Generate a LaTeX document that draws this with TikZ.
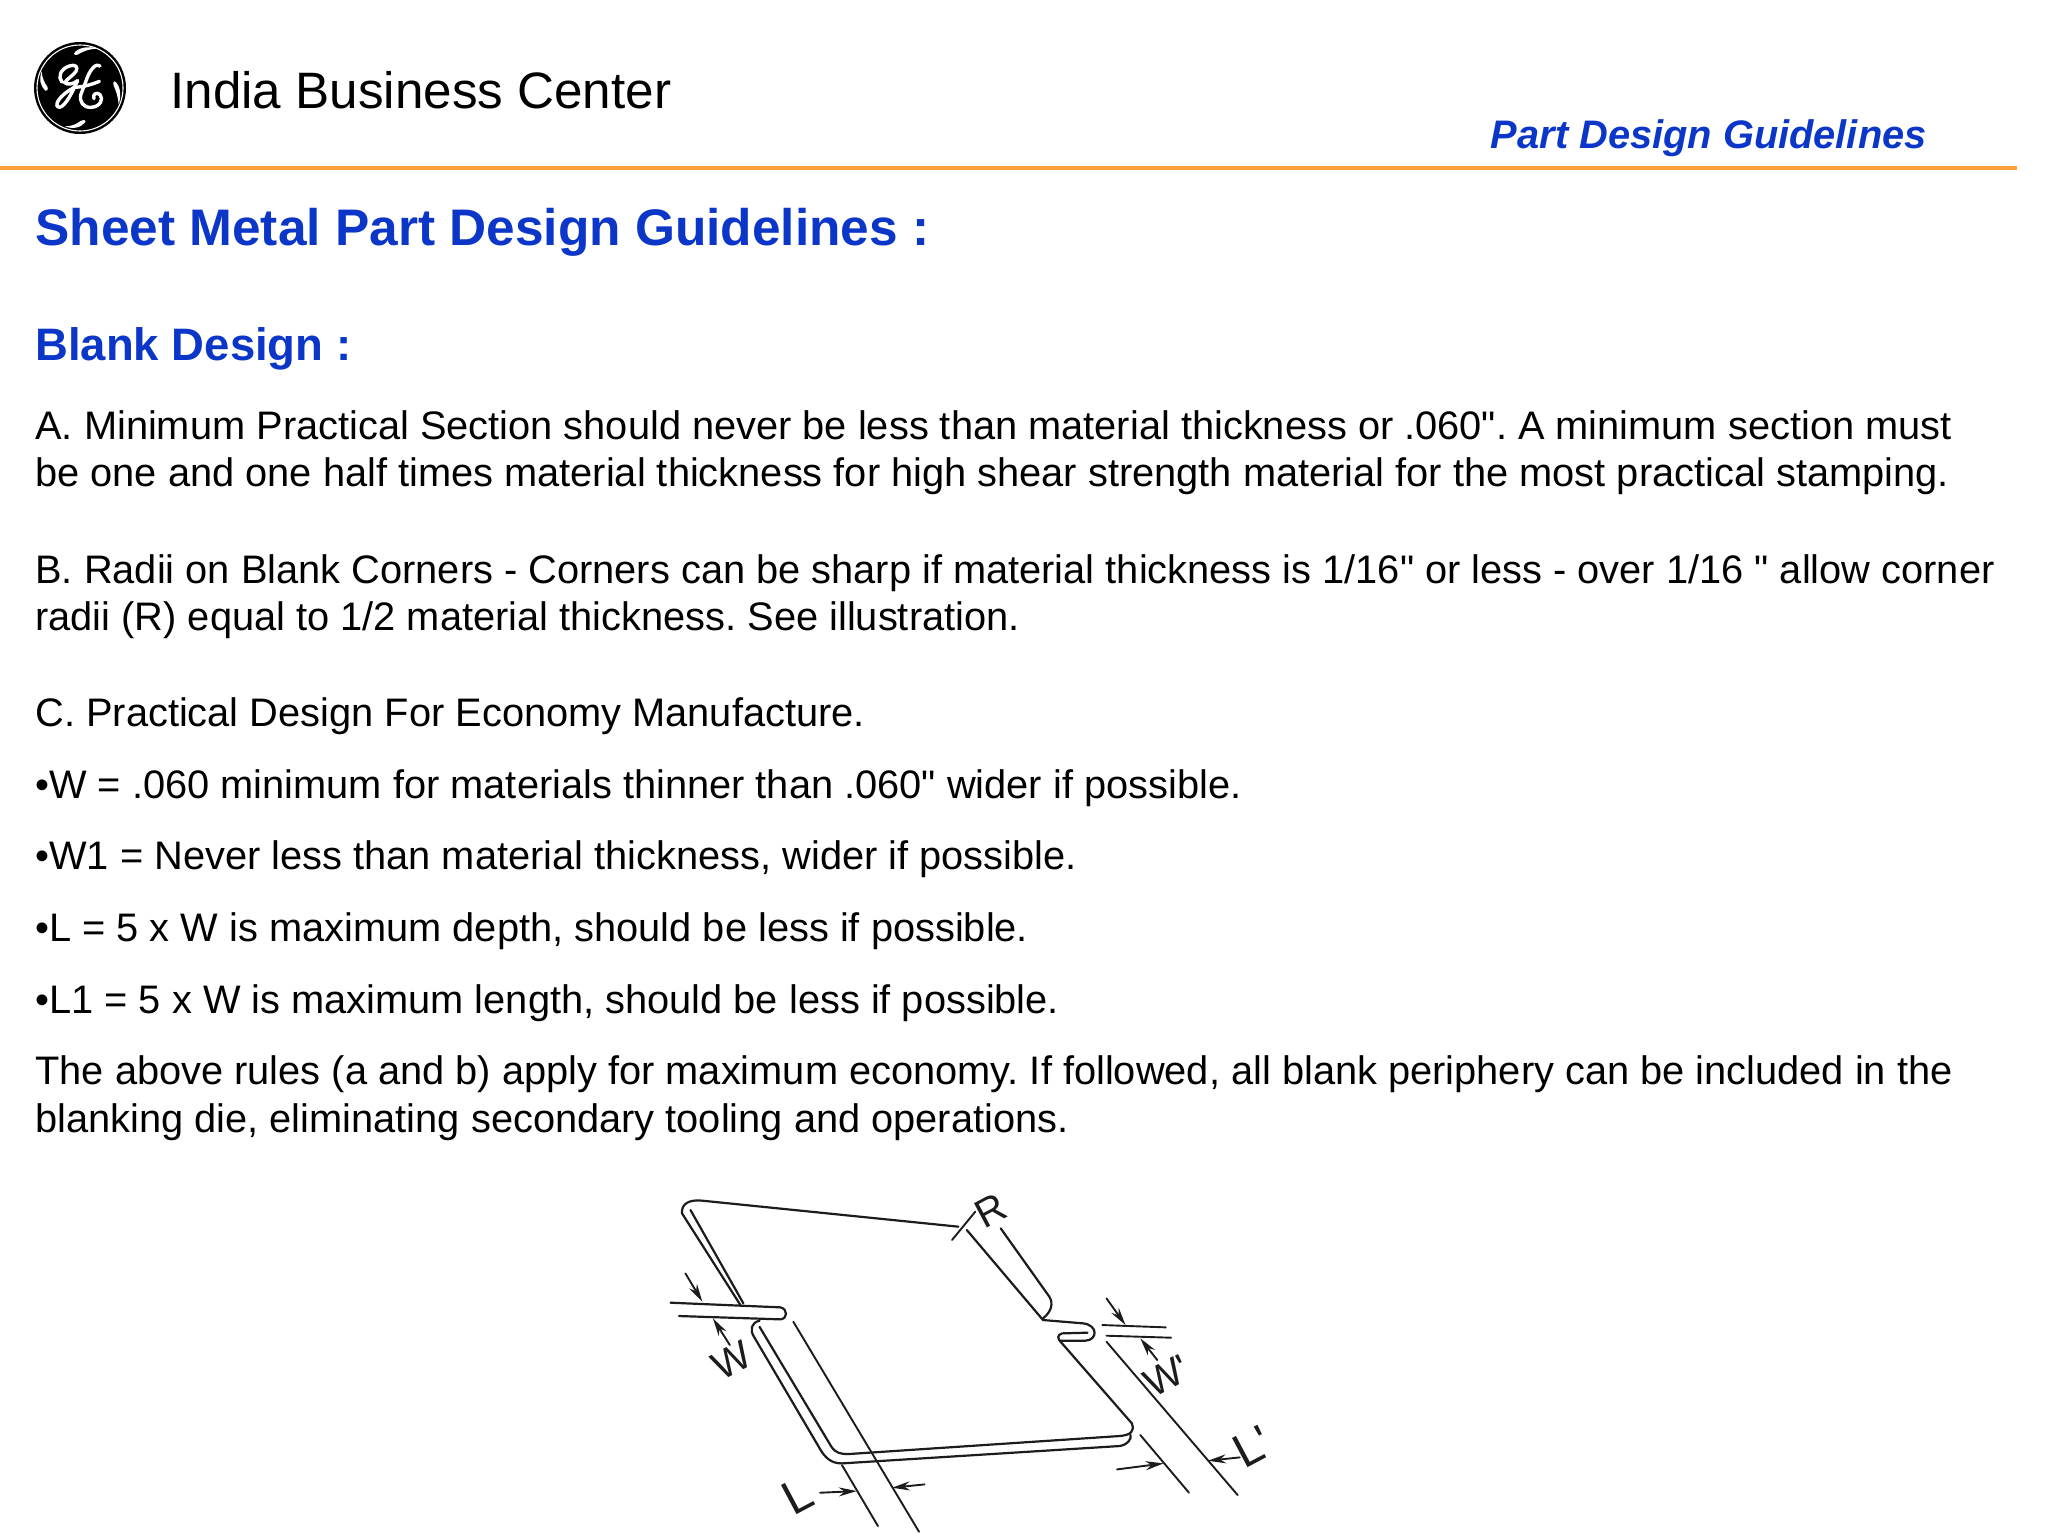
\documentclass[tikz,border=0pt]{standalone}
\usepackage{fontspec}
\usepackage{xcolor}
\setmainfont{Liberation Sans}[Ligatures=TeXOff]
\usetikzlibrary{
    arrows.meta,
    positioning
}
\definecolor{gehead}{HTML}{0B36C8}
\definecolor{gerule}{HTML}{FFA040}
\definecolor{geink}{HTML}{1C1C1C}
\tikzset{
    body/.style={anchor=base west, inner sep=0pt, font=\frenchspacing\fontsize{19.9}{23}\selectfont, text=black},
    headline/.style={anchor=base west, inner sep=0pt, font=\fontsize{25.7}{30}\bfseries\selectfont, text=gehead},
    subhead/.style={anchor=base west, inner sep=0pt, font=\fontsize{22.75}{26}\bfseries\selectfont, text=gehead},
    sheet/.style={draw=geink, line width=1.1pt, line cap=round},
    dim/.style={draw=geink, line width=0.95pt, line cap=round},
    dimarrow/.style={dim, -{Stealth[length=9pt, width=4.5pt]}},
    letter/.style={inner sep=0pt, text=geink, font=\fontsize{20}{20}\selectfont, rotate=28},
    bigletter/.style={letter, font=\fontsize{24}{24}\selectfont},
    monogram/.style={draw=white, line width=1.7pt, line cap=round, line join=round}
}

\begin{document}
\begin{tikzpicture}[x=0.5pt, y=-0.5pt]
    \useasboundingbox (0,0) rectangle (2048,1534);
    % logo
    \begin{scope}[shift={(30,38)}, x=0.1667pt, y=-0.1667pt]
        \fill[black] (150,150) circle[radius=23pt];
        \draw[white, line width=0.55pt] (150,150) circle[radius=21.5pt];
        \fill[white] (132,47) .. controls (140,30) and (175,22) .. (205,32) .. controls (180,32) and (165,38) .. (150,46) .. controls (142,52) and (132,52) .. (132,47) -- cycle;
        \fill[white] (254,130) .. controls (270,140) and (275,170) .. (266,200) .. controls (264,175) and (258,160) .. (252,145) .. controls (248,137) and (250,128) .. (254,130) -- cycle;
        \fill[white] (166,252) .. controls (155,268) and (130,275) .. (105,265) .. controls (125,265) and (140,258) .. (150,250) .. controls (158,244) and (170,246) .. (166,252) -- cycle;
        \fill[white] (46,158) .. controls (32,145) and (26,125) .. (35,100) .. controls (36,120) and (44,135) .. (52,146) .. controls (56,154) and (50,162) .. (46,158) -- cycle;
        \draw[monogram] (96,132) .. controls (82,118) and (92,92) .. (118,84) .. controls (135,78) and (146,86) .. (138,100) .. controls (130,112) and (112,122) .. (104,134) .. controls (112,142) and (130,138) .. (143,128);
        \draw[monogram] (143,128) .. controls (130,155) and (108,205) .. (88,208) .. controls (72,208) and (82,185) .. (103,168) .. controls (112,160) and (125,152) .. (135,148);
        \draw[monogram] (210,84) .. controls (200,74) and (182,92) .. (172,118) .. controls (166,135) and (160,150) .. (153,168) .. controls (146,190) and (160,210) .. (184,208) .. controls (210,206) and (222,184) .. (210,170) .. controls (200,160) and (186,170) .. (192,182);
        \draw[monogram] (130,148) .. controls (155,148) and (185,140) .. (208,130);
    \end{scope}
    % header
    \node[anchor=base west, inner sep=0pt, font=\fontsize{25.6}{29}\selectfont] (center) at (170,109) {India Business Center};
    \node[anchor=base east, inner sep=0pt, font=\fontsize{19.9}{25}\bfseries\itshape\selectfont, text=gehead] (part) at (1927,149) {Part Design Guidelines};
    \draw[gerule, line width=2.4pt] (0,168) -- (2017,168);
    % text
    \node[headline] (title) at (35,246) {Sheet Metal Part Design Guidelines :};
    \node[subhead] (blank) at (35,361) {Blank Design :};
    \node[body] (a1) at (35,440) {A. Minimum Practical Section should never be less than material thickness or .060". A minimum section must};
    \node[body] (a2) at (35,487) {be one and one half times material thickness for high shear strength material for the most practical stamping.};
    \node[body] (b1) at (35,583) {B. Radii on Blank Corners - Corners can be sharp if material thickness is 1/16" or less - over 1/16 " allow corner};
    \node[body] (b2) at (35,630) {radii (R) equal to 1/2 material thickness. See illustration.};
    \node[body] (c0) at (35,726) {C. Practical Design For Economy Manufacture.};
    \node[body] (c1) at (35,798) {•W = .060 minimum for materials thinner than .060" wider if possible.};
    \node[body] (c2) at (35,869) {•W1 = Never less than material thickness, wider if possible.};
    \node[body] (c3) at (35,941) {•L = 5 x W is maximum depth, should be less if possible.};
    \node[body] (c4) at (35,1013) {•L1 = 5 x W is maximum length, should be less if possible.};
    \node[body] (d1) at (35,1084) {The above rules (a and b) apply for maximum economy. If followed, all blank periphery can be included in the};
    \node[body] (d2) at (35,1132) {blanking die, eliminating secondary tooling and operations.};
    % blank sketch
    \begin{scope}[shift={(660,1190)}, x=0.2116pt, y=-0.1667pt]
        \draw[sheet] (190,345) -- (52,70) .. controls (50,40) and (70,28) .. (100,32) -- (705,110);
        \draw[sheet] (197,340) -- (72,60);
        \draw[sheet] (25,338) -- (285,352) .. controls (302,358) and (302,385) .. (285,388) -- (45,378);
        \draw[sheet] (235,392) .. controls (215,398) and (212,420) .. (222,440) -- (375,770) .. controls (390,805) and (405,820) .. (430,820) -- (1085,768) .. controls (1105,765) and (1115,745) .. (1112,735);
        \draw[sheet] (235,410) -- (405,770) .. controls (415,788) and (425,792) .. (445,792) -- (1085,738) .. controls (1112,735) and (1122,725) .. (1115,700) -- (950,460) .. controls (938,445) and (938,435) .. (950,430) -- (1010,428);
        \draw[sheet] (945,452) -- (1005,452) .. controls (1035,450) and (1035,405) .. (1000,400) -- (905,390) -- (725,120);
        \draw[sheet] (905,385) .. controls (925,365) and (930,340) .. (920,320) -- (805,115);
        \draw[dim] (690,150) -- (745,65);
        % extension lines
        \draw[dim] (315,395) -- (612,1025);
        \draw[dim] (430,825) -- (515,1008);
        \draw[dim] (1055,455) -- (1365,915);
        \draw[dim] (1135,735) -- (1250,908);
        \draw[dim] (1045,405) -- (1195,412);
        \draw[dim] (1055,437) -- (1208,443);
        % dimension arrows
        \draw[dimarrow] (60,250) -- (100,335);
        \draw[dimarrow] (165,465) -- (125,385);
        \draw[dimarrow] (1055,325) -- (1100,405);
        \draw[dimarrow] (1175,510) -- (1135,445);
        \draw[dimarrow] (378,908) -- (465,903);
        \draw[dimarrow] (625,883) -- (548,893);
        \draw[dimarrow] (1080,838) -- (1190,820);
        \draw[dimarrow] (1370,802) -- (1295,812);
        % letters
        \node[letter] (w) at (170,512) {W};
        \node[letter] (w1) at (1198,558) {W'};
        \node[bigletter] (l) at (325,918) {L};
        \node[bigletter] (l1) at (1400,770) {L'};
        \node[letter] (r) at (782,62) {R};
    \end{scope}
\end{tikzpicture}
\end{document}
